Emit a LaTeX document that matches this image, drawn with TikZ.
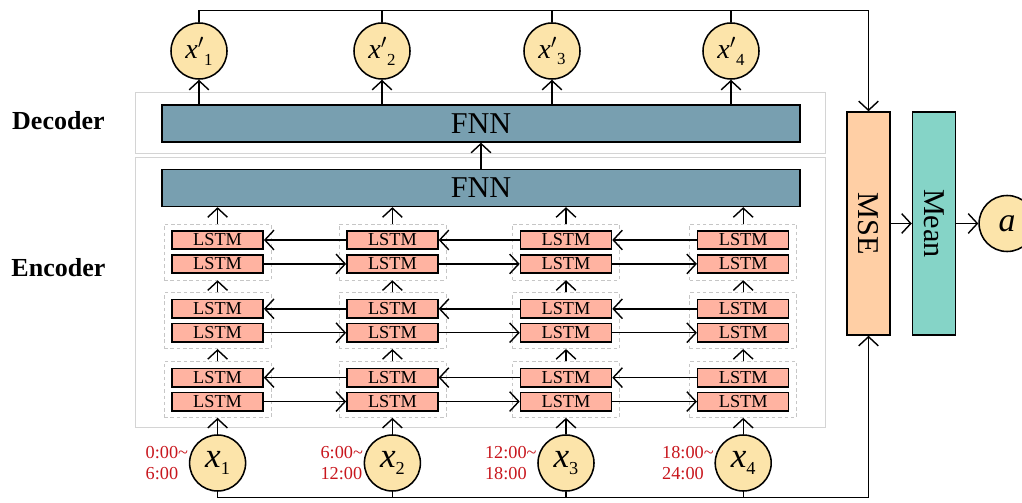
\documentclass[tikz,border=0pt]{standalone}
\usepackage{fontspec}
\setmainfont{Liberation Serif}
\usepackage{graphicx}
\usepackage{tikz}
\usetikzlibrary{arrows.meta,positioning,fit}
\definecolor{fnnblue}{HTML}{789FB0}
\definecolor{lstmred}{HTML}{FFB3A1}
\definecolor{varyel}{HTML}{FCE4AA}
\definecolor{msepeach}{HTML}{FFCFA5}
\definecolor{meanteal}{HTML}{85D4C7}
\definecolor{timered}{HTML}{C8161D}
\definecolor{panelgray}{HTML}{D4D4D4}
\newcommand{\lowidx}[2]{\raisebox{-.22em}{\fontsize{#1}{#1}\selectfont #2}}

\begin{document}
\begin{tikzpicture}[>={Straight Barb[length=6.5pt,width=14pt]},line width=1pt,
  panel/.style={draw=panelgray,line width=.7pt},
  fnn/.style={draw,line width=1.1pt,fill=fnnblue,minimum width=15.95cm,minimum height=.92cm,inner sep=0,font=\fontsize{21.5}{21.5}\selectfont},
  lstm/.style={draw,line width=1.1pt,fill=lstmred,minimum width=2.275cm,minimum height=.46cm,inner sep=0,font=\fontsize{13}{13}\selectfont},
  grp/.style={draw=gray!45,dash pattern=on 2.5pt off 2pt,line width=.5pt,inner xsep=.18cm,inner ysep=.15cm},
  var/.style={circle,draw,line width=1.1pt,fill=varyel,minimum size=1.4cm,inner sep=0},
  tall/.style={draw,line width=1.1pt,minimum width=1.075cm,minimum height=5.575cm,inner sep=0,font=\fontsize{21.5}{21.5}\selectfont},
  side/.style={font=\bfseries\fontsize{18.5}{18.5}\selectfont},
  hours/.style={text=timered,align=left,inner sep=0,font=\fontsize{13}{15}\selectfont}]
  \useasboundingbox (0,0) rectangle (25.55,12.55);
  \draw[panel] (3.375,8.725) rectangle (20.625,10.25);
  \draw[panel] (3.375,1.875) rectangle (20.625,8.625);
  \node[side] (dec) at (1.46,9.525) {Decoder};
  \node[side] (enc) at (1.46,5.85) {Encoder};
  \node[fnn] (fnnD) at (12.025,9.4625) {FNN};
  \node[fnn] (fnnE) at (12.025,7.85) {FNN};
  \draw[->] (fnnE) -- (fnnD);

  % three bidirectional layers for each time step
  \foreach \col/\xx/\hrs in {1/5.44/{0:00\textasciitilde\\6:00},2/9.81/{6:00\textasciitilde\\12:00},
      3/14.15/{12:00\textasciitilde\\18:00},4/18.58/{18:00\textasciitilde\\24:00}}{
    \foreach \ly/\yy in {1/3.11,2/4.83,3/6.55}{
      \node[lstm] (b\col\ly) at (\xx,\yy) {LSTM};
      \node[lstm,below=.1cm of b\col\ly] (f\col\ly) {LSTM};
      \node[grp,fit=(b\col\ly)(f\col\ly)] (g\col\ly) {};
    }
    \node[var] (x\col) at (\xx,.975) {\fontsize{25}{25}\selectfont\textit{x}\lowidx{13}{\col}};
    \node[hours,left=0pt of x\col] (h\col) {\hrs};
    \draw[->] (x\col) -- (g\col1);
    \draw[->] (g\col1) -- (g\col2);
    \draw[->] (g\col2) -- (g\col3);
    \draw[->] (g\col3.north) -- (g\col3.north |- fnnE.south);
    \draw (x\col.south) -- ++(0,-.15);
  }
  \foreach \col [count=\nxt from 2] in {1,2,3}{
    \foreach \ly in {1,2,3}{
      \draw[->] (f\col\ly) -- (f\nxt\ly);
      \draw[->] (b\nxt\ly) -- (b\col\ly);
    }
  }

  % reconstructed outputs
  \foreach \col/\xx in {1/4.975,2/9.55,3/13.8,4/18.275}{
    \node[var] (o\col) at (\xx,11.275) {\fontsize{20}{20}\selectfont\textit{x}$'$\lowidx{12}{\col}};
    \draw[->] (o\col.south |- fnnD.north) -- (o\col);
    \draw (o\col.north) -- ++(0,.3);
  }

  \node[tall,fill=msepeach] (mse) at (21.7125,6.9625) {\rotatebox{-90}{MSE}};
  \node[tall,fill=meanteal,right=.525cm of mse] (mean) {\rotatebox{-90}{Mean}};
  \node[var,right=.55cm of mean] (a) {\fontsize{24}{24}\selectfont\textit{a}};
  \draw[->] (o1.north) -- ++(0,.3) -| (mse.north);
  \draw[->] (x1.south) -- ++(0,-.15) -| (mse.south);
  \draw[->] (mse) -- (mean);
  \draw[->] (mean) -- (a);
\end{tikzpicture}
\end{document}
